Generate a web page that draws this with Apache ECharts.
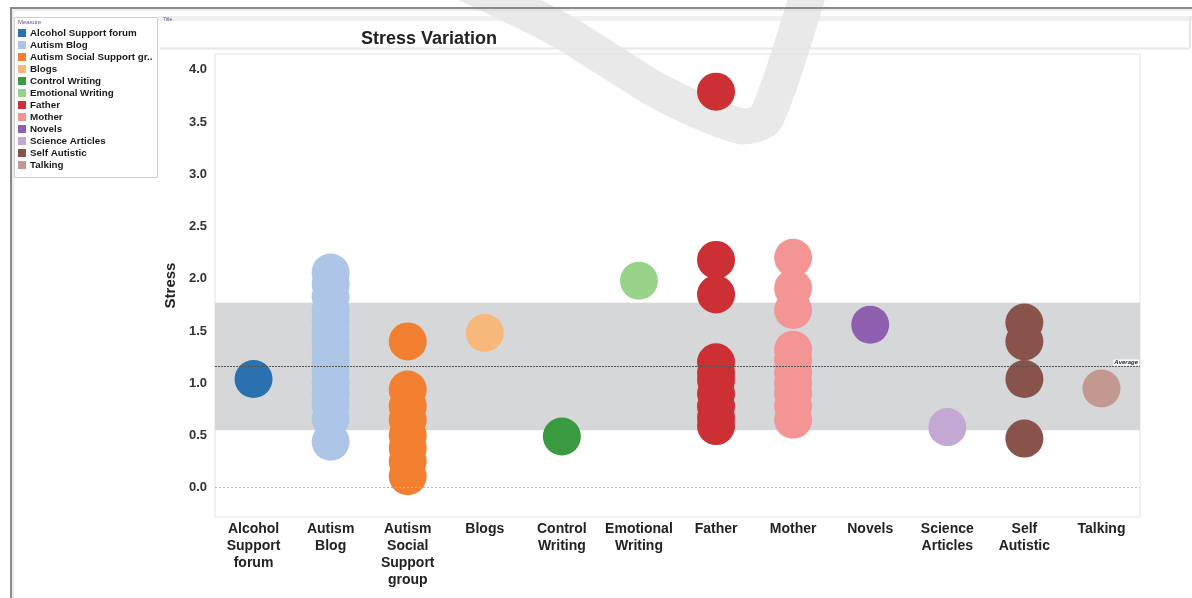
<!DOCTYPE html>
<html>
<head>
<meta charset="utf-8">
<script src="https://cdn.jsdelivr.net/npm/echarts@6/dist/echarts.min.js"></script>
<style>
html,body{margin:0;padding:0;background:#fff;}
#chart{width:1192px;height:598px;}
</style>
</head>
<body>
<div id="chart"></div>
<script>
// ---- data ----
var categories = ["Alcohol Support forum","Autism Blog","Autism Social Support group","Blogs","Control Writing","Emotional Writing","Father","Mother","Novels","Science Articles","Self Autistic","Talking"];
var axisLabels = ["Alcohol\nSupport\nforum","Autism\nBlog","Autism\nSocial\nSupport\ngroup","Blogs","Control\nWriting","Emotional\nWriting","Father","Mother","Novels","Science\nArticles","Self\nAutistic","Talking"];
var legendLabels = ["Alcohol Support forum","Autism Blog","Autism Social Support gr..","Blogs","Control Writing","Emotional Writing","Father","Mother","Novels","Science Articles","Self Autistic","Talking"];
var alcoholSupport = [1.04];
var autismBlog = [2.06,1.95,1.83,1.70,1.60,1.50,1.40,1.30,1.20,1.10,1.00,0.90,0.80,0.66,0.44];
var autismSocial = [1.40,0.94,0.78,0.65,0.50,0.38,0.25,0.11];
var blogs = [1.48];
var controlWriting = [0.49];
var emotionalWriting = [1.98];
var father = [3.79,2.18,1.85,1.20,1.10,1.03,0.90,0.78,0.67,0.59];
var mother = [2.20,1.91,1.70,1.32,1.22,1.10,1.00,0.90,0.78,0.65];
var novels = [1.56];
var scienceArticles = [0.58];
var selfAutistic = [1.58,1.40,1.04,0.47];
var talking = [0.95];
var seriesValues = [alcoholSupport,autismBlog,autismSocial,blogs,controlWriting,emotionalWriting,father,mother,novels,scienceArticles,selfAutistic,talking];
var yTicks = [0,0.5,1.0,1.5,2.0,2.5,3.0,3.5,4.0];
var average = 1.16;
var sdLow = 0.55;
var sdHigh = 1.77;

var colors = ["#2b71b0","#adc5e6","#f28030","#f7b87c","#3a9a40","#98d38a","#cc3035","#f49595","#8f5fb0","#c3a8d4","#87534a","#c39890"];

var series = categories.map(function(c,i){
  var s = {
    name: c,
    type: 'scatter',
    symbolSize: 38,
    itemStyle: {color: colors[i], opacity: 1},
    emphasis: {disabled: true},
    data: seriesValues[i].map(function(v){return [c, v];})
  };
  if (i === 0) {
    s.markArea = {
      silent: true,
      itemStyle: {color: '#d6d7d9'},
      data: [[{yAxis: sdLow}, {yAxis: sdHigh}]]
    };
    s.markLine = {
      silent: true,
      symbol: 'none',
      data: [
        {yAxis: sdHigh, lineStyle: {opacity: 0}, label: {show: true, position: 'insideStartTop', formatter: 'Standard Deviation', fontSize: 6, color: '#333', distance: [2,1]}},
        {yAxis: sdLow, lineStyle: {opacity: 0}, label: {show: true, position: 'insideStartTop', formatter: 'Standard Deviation', fontSize: 6, color: '#333', distance: [2,1]}},
        {yAxis: average, lineStyle: {color: '#555', type: [2,1], width: 1.2}, label: {show: true, position: 'insideEndTop', formatter: 'Average', fontSize: 6, fontStyle: 'italic', fontWeight: 'bold', color: '#223', backgroundColor: '#fff', padding: [0,1], distance: [1,1]}},
        {yAxis: 0, lineStyle: {color: '#bbb', type: [2,2], width: 1}, label: {show: false}}
      ]
    };
  }
  return s;
});

var chart = echarts.init(document.getElementById('chart'), null, {renderer: 'canvas'});
chart.setOption({
  animation: false,
  backgroundColor: '#fff',
  title: {
    text: 'Stress Variation',
    left: 356, top: 25,
    textStyle: {fontFamily: 'Liberation Sans', fontSize: 18, fontWeight: 'bold', color: '#222'}
  },
  legend: {
    orient: 'vertical',
    left: 18, top: 28,
    padding: 0,
    icon: 'rect',
    itemWidth: 8, itemHeight: 8, itemGap: 2,
    selectedMode: false,
    data: categories,
    formatter: function(n){ return legendLabels[categories.indexOf(n)]; },
    textStyle: {fontFamily: 'Liberation Sans', fontSize: 9.8, fontWeight: 'bold', color: '#1a1a1a', lineHeight: 8, padding: [0,0,0,-1]}
  },
  grid: {left: 215, top: 54, right: 52, bottom: 81, show: true, borderColor: '#e2e2e2', borderWidth: 1},
  xAxis: {
    type: 'category',
    data: categories,
    boundaryGap: true,
    axisLine: {show: false},
    axisTick: {show: false},
    splitLine: {show: false},
    axisLabel: {
      interval: 0, margin: 4,
      formatter: function(v){ return axisLabels[categories.indexOf(v)]; },
      fontFamily: 'Liberation Sans', fontSize: 14, fontWeight: 'bold', color: '#222', lineHeight: 17
    }
  },
  yAxis: {
    type: 'value',
    min: -0.28, max: 4.15,
    name: 'Stress',
    nameLocation: 'middle',
    nameGap: 35,
    nameTextStyle: {fontFamily: 'Liberation Sans', fontSize: 15, fontWeight: 'bold', color: '#222'},
    axisLine: {show: false},
    axisTick: {show: false},
    splitLine: {show: false},
    axisLabel: {
      customValues: yTicks,
      formatter: function(v){ return v.toFixed(1); },
      fontFamily: 'Liberation Sans', fontSize: 13, fontWeight: 'bold', color: '#333', margin: 8
    }
  },
  graphic: [
    // outer frame
    {type: 'polyline', shape: {points: [[11,598],[11,8],[1192,8]]}, style: {stroke: '#8a8a8a', lineWidth: 2, fill: null}, silent: true},
    {type: 'polyline', shape: {points: [[13,598],[13,10],[1192,10]]}, style: {stroke: '#d8d8d8', lineWidth: 1, fill: null}, silent: true},
    // legend box
    {type: 'rect', shape: {x: 14.5, y: 17.5, width: 143, height: 160}, style: {fill: '#fff', stroke: '#cfcfcf', lineWidth: 1}, z: -10, silent: true},
    {type: 'text', left: 18, top: 19, style: {text: 'Measure', fontSize: 6, fill: '#7a4a8a', fontFamily: 'Liberation Sans'}, silent: true},
    // title panel
    {type: 'rect', shape: {x: 158, y: 16, width: 1034, height: 5}, style: {fill: '#f0f0f0'}, z: -10, silent: true},
    {type: 'text', left: 163, top: 17, style: {text: 'Title', fontSize: 5, fill: '#557', fontFamily: 'Liberation Sans'}, silent: true},
    {type: 'line', shape: {x1: 160, y1: 48.5, x2: 1190, y2: 48.5}, style: {stroke: '#e6e6e6', lineWidth: 2}, silent: true},
    {type: 'line', shape: {x1: 1190, y1: 16, x2: 1190, y2: 48}, style: {stroke: '#e6e6e6', lineWidth: 2}, silent: true},
    // scan watermark stroke
    {type: 'polyline', shape: {points: [[458,-20],[560,30],[660,92],[740,126],[766,118],[812,-20]], smooth: 0.25},
     style: {stroke: '#e9e9e9', lineWidth: 36, fill: null, lineJoin: 'round', lineCap: 'butt'}, z: -5, silent: true}
  ],
  series: series
});
</script>
</body>
</html>
